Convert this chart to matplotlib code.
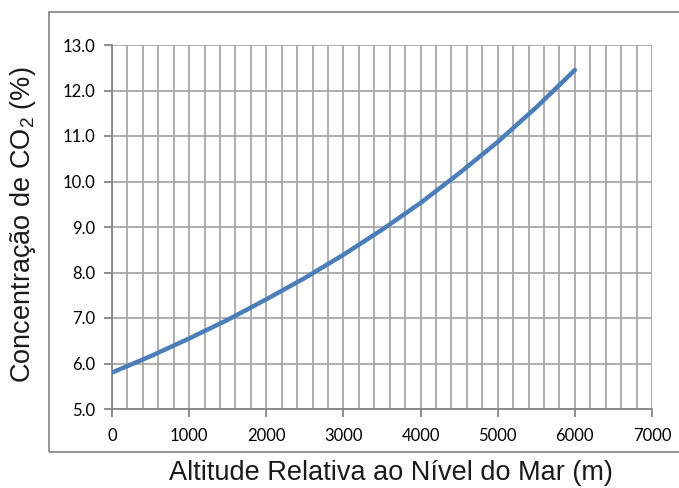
import matplotlib
matplotlib.use("Agg")
import matplotlib.pyplot as plt
from matplotlib.patches import Rectangle
from matplotlib.ticker import MultipleLocator

altitude = [0, 500, 1000, 1500, 2000, 2500, 3000, 3500, 4000, 4500, 5000, 5500, 6000]
co2 = [5.80, 6.16, 6.55, 6.96, 7.41, 7.88, 8.39, 8.94, 9.53, 10.18, 10.87, 11.63, 12.45]
xlabel = "Altitude Relativa ao Nível do Mar (m)"
ylabel = "Concentração de CO$_2$ (%)"

W, H = 679, 488
fig = plt.figure(figsize=(W/100, H/100), dpi=100)
plt.rcParams['mathtext.fontset'] = 'custom'
plt.rcParams['mathtext.rm'] = 'Liberation Sans'

L, R, T, B = 112, 652, 45, 409
ax = fig.add_axes([L/W, 1 - B/H, (R-L)/W, (B-T)/H])

grid_c = '#a8a8a8'
spine_c = '#868686'
ax.plot(altitude, co2, color='#4a7ebb', lw=3.2, solid_capstyle='round', zorder=3)
ax.set_xlim(0, 7000)
ax.set_ylim(5.0, 13.0)
ax.xaxis.set_major_locator(MultipleLocator(1000))
ax.xaxis.set_minor_locator(MultipleLocator(200))
ax.yaxis.set_major_locator(MultipleLocator(1.0))
ax.grid(True, which='both', axis='x', color=grid_c, lw=1.3)
ax.grid(True, which='major', axis='y', color=grid_c, lw=1.3)
ax.set_axisbelow(True)
ax.yaxis.set_major_formatter(matplotlib.ticker.FormatStrFormatter('%.1f'))
for s in ['top', 'right']:
    ax.spines[s].set_visible(False)
for s in ['left', 'bottom']:
    ax.spines[s].set_color(spine_c)
    ax.spines[s].set_linewidth(1.3)
ax.tick_params(axis='both', which='major', color=spine_c, width=1.3, length=6,
               labelsize=12, labelcolor='#000000')
ax.tick_params(axis='x', which='minor', length=0)
ax.tick_params(axis='x', pad=8)
ax.tick_params(axis='y', pad=6)
for lab in ax.get_xticklabels() + ax.get_yticklabels():
    lab.set_family('Lato')

fig.text(391/W, 1 - 473/H, xlabel, ha='center', va='center', fontsize=19.5,
         family='Liberation Sans', color='#1a1a1a')
fig.text(23/W, 1 - 225/H, ylabel, ha='center', va='center', rotation=90,
         fontsize=19.5, family='Liberation Sans', color='#1a1a1a')

frame = Rectangle((49/W, 1 - 452/H), (W + 20 - 49)/W, (452 - 12)/H,
                  transform=fig.transFigure, fill=False, edgecolor='#8c8c8c',
                  lw=1.3, clip_on=False)
fig.patches.append(frame)

fig.savefig('out.png', dpi=100)
